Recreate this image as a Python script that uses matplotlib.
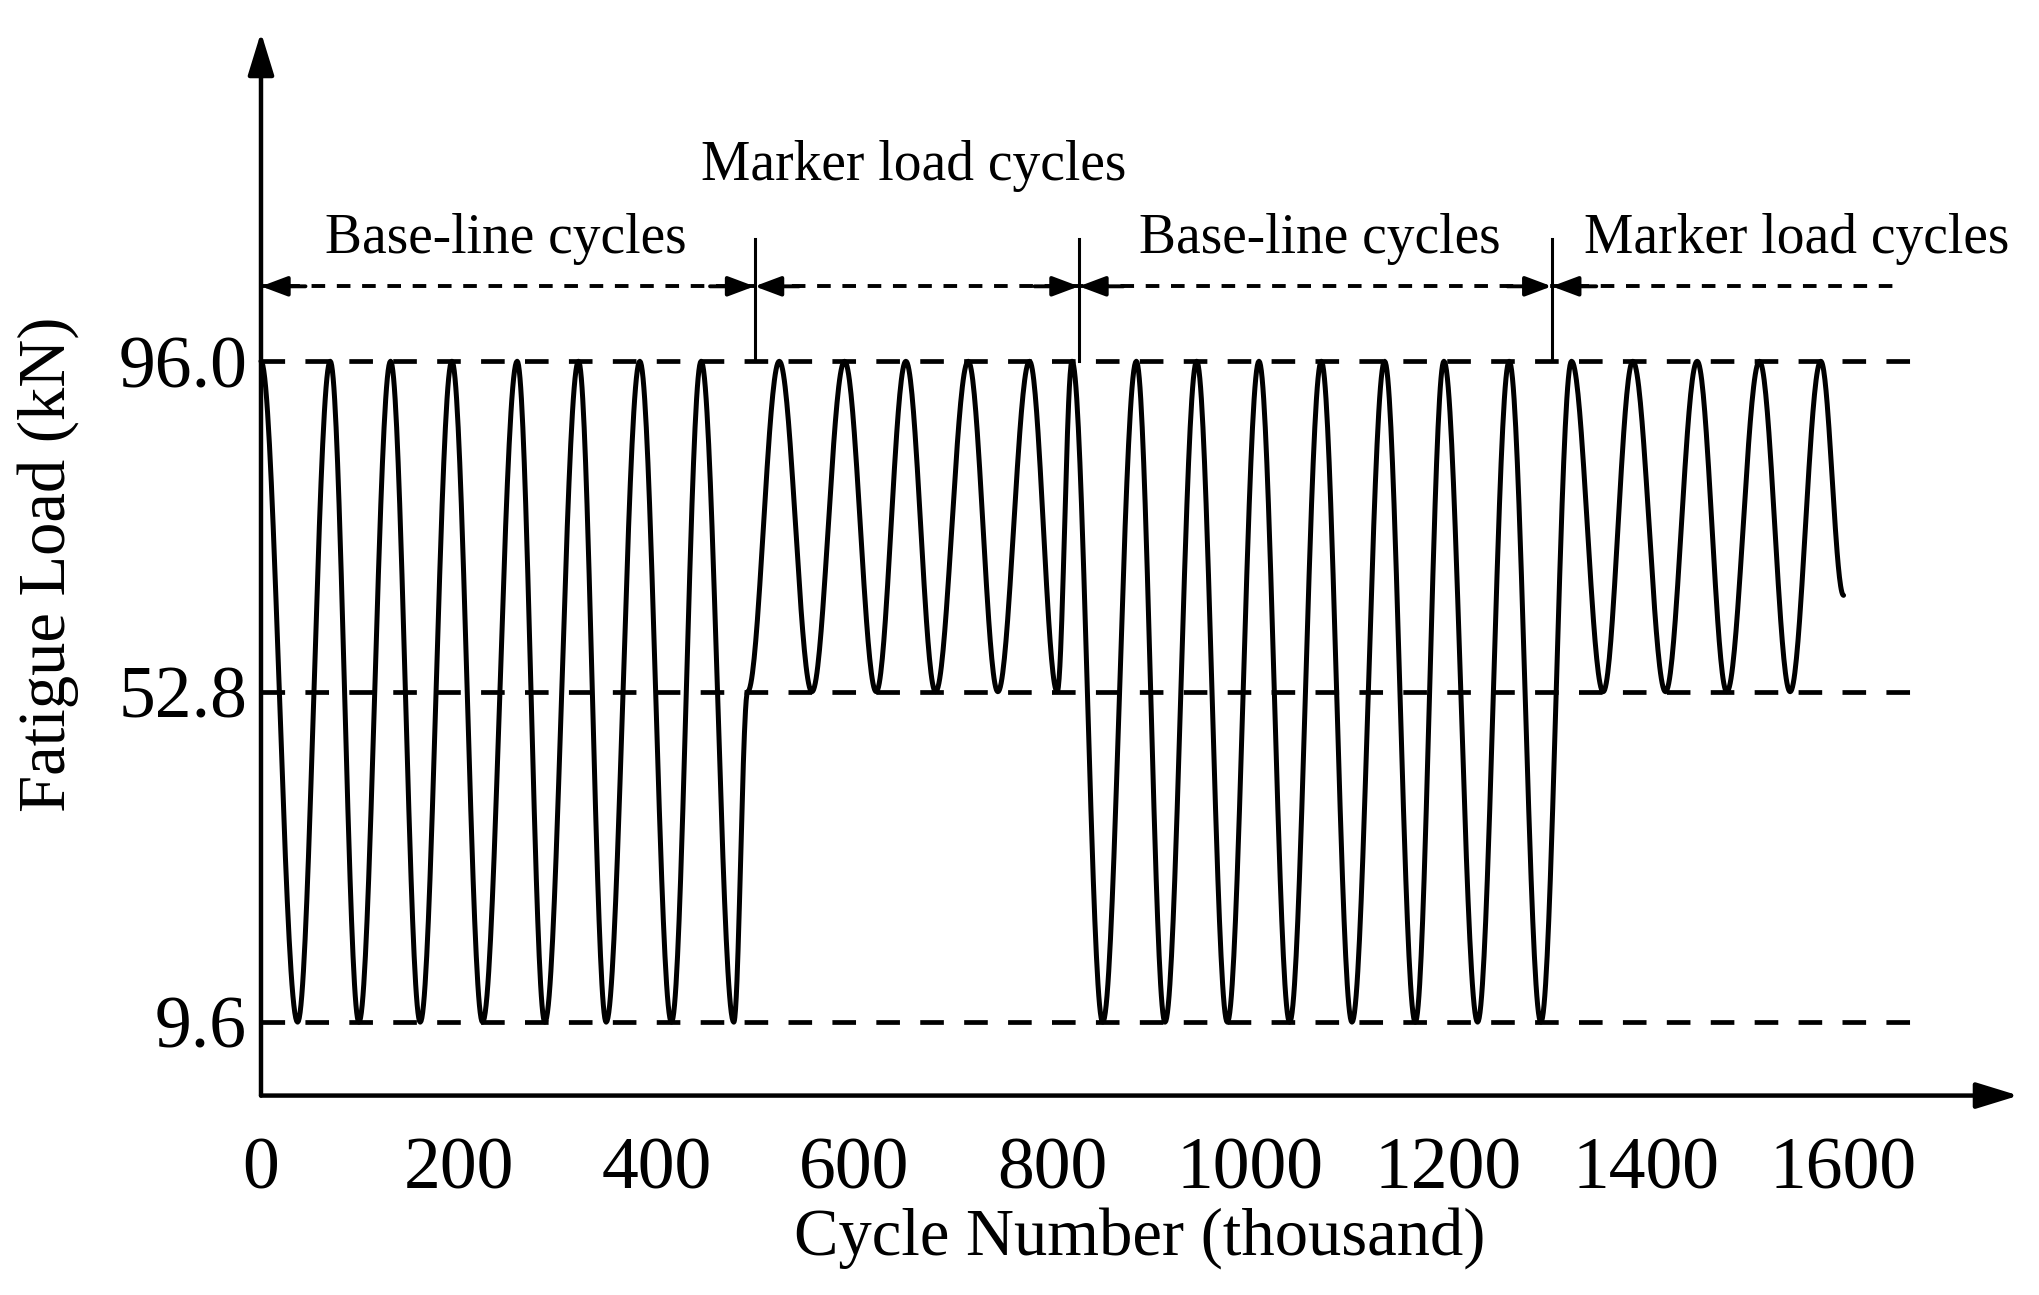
import numpy as np
import matplotlib
matplotlib.use("Agg")
import matplotlib.pyplot as plt

plt.rcParams['font.family'] = ['Liberation Serif', 'DejaVu Serif']

# extrema of the load history (thousand cycles, kN)
ext_x = [0, 37, 70, 99, 131, 161, 193, 224, 259, 287, 321, 349, 383, 415, 445, 478, 492,
         524, 557, 590, 622, 652, 682, 715, 745, 777, 805, 820,
         851, 885, 914, 946, 977, 1009, 1040, 1072, 1103, 1136, 1167, 1196, 1230, 1262, 1294,
         1325, 1357, 1387, 1420, 1452, 1482, 1515, 1546, 1577, 1600]
ext_y = [96, 9.6, 96, 9.6, 96, 9.6, 96, 9.6, 96, 9.6, 96, 9.6, 96, 9.6, 96, 9.6, 52.8,
         96, 52.8, 96, 52.8, 96, 52.8, 96, 52.8, 96, 52.8, 96,
         9.6, 96, 9.6, 96, 9.6, 96, 9.6, 96, 9.6, 96, 9.6, 96, 9.6, 96, 9.6,
         96, 52.8, 96, 52.8, 96, 52.8, 96, 52.8, 96, 65.4]
levels = [9.6, 52.8, 96.0]
level_labels = ['9.6', '52.8', '96.0']
xticks = [0, 200, 400, 600, 800, 1000, 1200, 1400, 1600]
boundaries = [499, 827, 1305]
phase_labels = ['Base-line cycles', 'Marker load cycles', 'Base-line cycles', 'Marker load cycles']
phase_x = [248, 660, 1070, 1553]
phase_y = [112, 121.5, 112, 112]

xs, ys = [], []
for i in range(len(ext_x) - 1):
    t = np.linspace(0, 1, 40)
    x0, x1, y0, y1 = ext_x[i], ext_x[i+1], ext_y[i], ext_y[i+1]
    xs.extend(x0 + (x1 - x0) * t)
    ys.extend(y0 + (y1 - y0) * (1 - np.cos(np.pi * t)) / 2)

fig = plt.figure(figsize=(20.39, 12.95), dpi=100)
ax = fig.add_axes([0.128, 0.154, 0.862, 0.821])
ax.set_xlim(0, 1777)
ax.set_ylim(0, 139)
for s in ax.spines.values():
    s.set_visible(False)

ax.plot(xs, ys, color='black', lw=3.6, solid_capstyle='round', clip_on=False)
for lv in levels:
    ax.plot([0, 1671], [lv, lv], color='black', lw=3.4, dashes=(5, 4.3))

# axes with arrows
ax.annotate('', xy=(1777, 0), xytext=(0, 0),
            arrowprops=dict(arrowstyle='-|>,head_length=2.6,head_width=0.8', color='black', lw=3.2,
                            shrinkA=0, shrinkB=0), annotation_clip=False)
ax.annotate('', xy=(0, 139), xytext=(0, 0),
            arrowprops=dict(arrowstyle='-|>,head_length=2.6,head_width=0.8', color='black', lw=3.2,
                            shrinkA=0, shrinkB=0), annotation_clip=False)

# phase annotation line
ax.plot([0, 1652], [105.8, 105.8], color='black', lw=2.8, dashes=(3.5, 3))
for b in boundaries:
    ax.plot([b, b], [96, 112], color='black', lw=2.2)
arrow_kw = dict(arrowstyle='-|>,head_length=1.6,head_width=0.6', color='black', lw=2.8, shrinkA=0, shrinkB=0)
ax.annotate('', xy=(0, 105.8), xytext=(45, 105.8), arrowprops=arrow_kw)
for b in boundaries:
    ax.annotate('', xy=(b, 105.8), xytext=(b - 45, 105.8), arrowprops=arrow_kw)
    ax.annotate('', xy=(b, 105.8), xytext=(b + 45, 105.8), arrowprops=arrow_kw)
for lab, px, py in zip(phase_labels, phase_x, phase_y):
    ax.text(px, py, lab, ha='center', va='center', fontsize=40)

ax.set_xticks(xticks)
ax.set_xticklabels([str(v) for v in xticks])
ax.set_yticks(levels)
ax.set_yticklabels(level_labels)
ax.tick_params(axis='x', length=0, labelsize=53, pad=30)
ax.tick_params(axis='y', length=0, labelsize=53, pad=10)
ax.set_xlabel('Cycle Number (thousand)', fontsize=48, labelpad=2)
ax.set_ylabel('Fatigue Load (kN)', fontsize=48, labelpad=28)

fig.savefig('out.png', dpi=100)
